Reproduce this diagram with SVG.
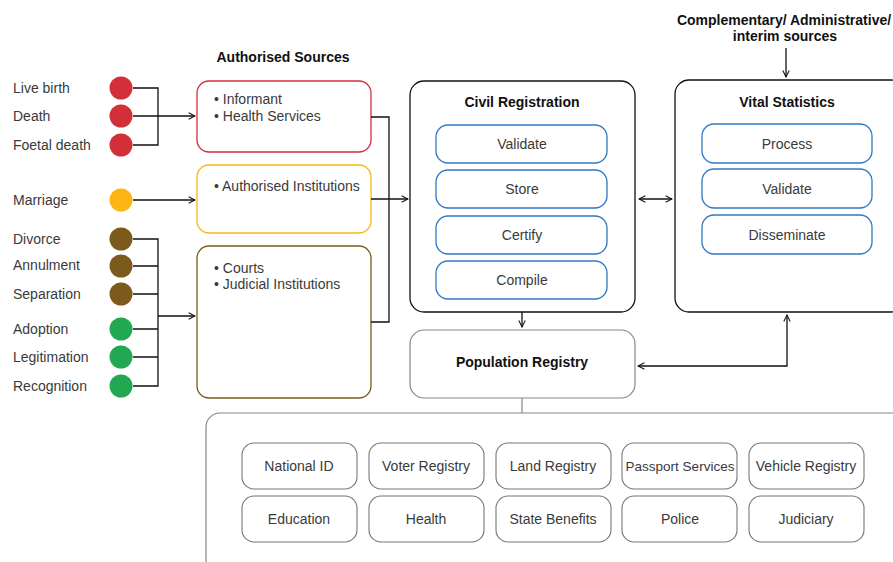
<svg xmlns="http://www.w3.org/2000/svg" width="893" height="562" viewBox="0 0 893 562">
<style>
text{font-family:"Liberation Sans",Arial,sans-serif;font-size:14px;fill:#3a3a3a}
.b{font-weight:bold;fill:#111}
.c{text-anchor:middle}
.ln{fill:none;stroke:#111;stroke-width:1.3}
.gl{fill:none;stroke:#888;stroke-width:1.2}
.blue{fill:#fff;stroke:#2f78c4;stroke-width:1.3}
.gray{fill:#fff;stroke:#777;stroke-width:1.1}
</style>
<defs>
<marker id="ah" viewBox="0 0 10 10" refX="9" refY="5" markerWidth="8" markerHeight="8" orient="auto-start-reverse" markerUnits="userSpaceOnUse">
<path d="M1,1 L9,5 L1,9" fill="none" stroke="#111" stroke-width="1.3"/>
</marker>
</defs>

<g id="events">
<text x="13" y="93">Live birth</text><circle cx="121" cy="88" r="11.5" fill="#d22f38"/>
<text x="13" y="121">Death</text><circle cx="121" cy="116" r="11.5" fill="#d22f38"/>
<text x="13" y="150">Foetal death</text><circle cx="121" cy="145" r="11.5" fill="#d22f38"/>
<text x="13" y="205">Marriage</text><circle cx="121" cy="200" r="11.5" fill="#fbb616"/>
<text x="13" y="244">Divorce</text><circle cx="121" cy="239" r="11.5" fill="#7b5a1c"/>
<text x="13" y="270">Annulment</text><circle cx="121" cy="266" r="11.5" fill="#7b5a1c"/>
<text x="13" y="299">Separation</text><circle cx="121" cy="294" r="11.5" fill="#7b5a1c"/>
<text x="13" y="334">Adoption</text><circle cx="121" cy="329" r="11.5" fill="#22a852"/>
<text x="13" y="362">Legitimation</text><circle cx="121" cy="357" r="11.5" fill="#22a852"/>
<text x="13" y="391">Recognition</text><circle cx="121" cy="386" r="11.5" fill="#22a852"/>
</g>

<g id="authorised-sources">
<text class="b c" x="283" y="62">Authorised Sources</text>
<rect x="197" y="81" width="174" height="71" rx="12" fill="#fff" stroke="#d22f38" stroke-width="1.3"/>
<text x="214" y="104">• Informant</text>
<text x="214" y="121">• Health Services</text>
<rect x="197" y="165" width="174" height="68" rx="12" fill="#fff" stroke="#fbb616" stroke-width="1.3"/>
<text x="214" y="191">• Authorised Institutions</text>
<rect x="197" y="246" width="174" height="152" rx="12" fill="#fff" stroke="#7b5a1c" stroke-width="1.3"/>
<text x="214" y="273">• Courts</text>
<text x="214" y="289">• Judicial Institutions</text>
</g>

<g id="civil-registration">
<rect x="410" y="81" width="225" height="231" rx="14" fill="#fff" stroke="#111" stroke-width="1.3"/>
<text class="b c" x="522" y="107">Civil Registration</text>
<rect class="blue" x="436" y="125" width="171" height="38" rx="12"/><text class="c" x="522" y="149">Validate</text>
<rect class="blue" x="436" y="170" width="171" height="38" rx="12"/><text class="c" x="522" y="194">Store</text>
<rect class="blue" x="436" y="216" width="171" height="38" rx="12"/><text class="c" x="522" y="240">Certify</text>
<rect class="blue" x="436" y="261" width="171" height="38" rx="12"/><text class="c" x="522" y="285">Compile</text>
</g>

<g id="vital-statistics">
<text class="b c" x="784" y="25">Complementary/ Administrative/</text>
<text class="b c" x="785" y="41">interim sources</text>
<rect x="675" y="80" width="230" height="232" rx="14" fill="#fff" stroke="#111" stroke-width="1.3"/>
<text class="b c" x="787" y="107">Vital Statistics</text>
<rect class="blue" x="702" y="124" width="170" height="39" rx="12"/><text class="c" x="787" y="149">Process</text>
<rect class="blue" x="702" y="169" width="170" height="39" rx="12"/><text class="c" x="787" y="194">Validate</text>
<rect class="blue" x="702" y="215" width="170" height="39" rx="12"/><text class="c" x="787" y="240">Disseminate</text>
</g>

<g id="population-registry">
<rect x="410" y="330" width="225" height="68" rx="14" fill="#fff" stroke="#888" stroke-width="1.2"/>
<text class="b c" x="522" y="367">Population Registry</text>
</g>

<g id="registries">
<rect x="206" y="413" width="710" height="170" rx="14" fill="#fff" stroke="#888" stroke-width="1.2"/>
<rect class="gray" x="242" y="443" width="115" height="46" rx="12"/><text class="c" x="299" y="471">National ID</text>
<rect class="gray" x="369" y="443" width="115" height="46" rx="12"/><text class="c" x="426" y="471">Voter Registry</text>
<rect class="gray" x="496" y="443" width="115" height="46" rx="12"/><text class="c" x="553" y="471">Land Registry</text>
<rect class="gray" x="622" y="443" width="115" height="46" rx="12"/><text class="c" x="680" y="471" style="font-size:13.5px">Passport Services</text>
<rect class="gray" x="749" y="443" width="115" height="46" rx="12"/><text class="c" x="806" y="471">Vehicle Registry</text>
<rect class="gray" x="242" y="496" width="115" height="46" rx="12"/><text class="c" x="299" y="524">Education</text>
<rect class="gray" x="369" y="496" width="115" height="46" rx="12"/><text class="c" x="426" y="524">Health</text>
<rect class="gray" x="496" y="496" width="115" height="46" rx="12"/><text class="c" x="553" y="524">State Benefits</text>
<rect class="gray" x="622" y="496" width="115" height="46" rx="12"/><text class="c" x="680" y="524">Police</text>
<rect class="gray" x="749" y="496" width="115" height="46" rx="12"/><text class="c" x="806" y="524">Judiciary</text>
</g>

<g id="connectors">
<path class="ln" d="M133,88 H158 V145 H133"/>
<path class="ln" d="M133,116 H195" marker-end="url(#ah)"/>
<path class="ln" d="M133,200 H195" marker-end="url(#ah)"/>
<path class="ln" d="M133,239 H158 V386 H133 M133,266 H158 M133,294 H158 M133,329 H158 M133,357 H158"/>
<path class="ln" d="M158,316 H195" marker-end="url(#ah)"/>
<path class="ln" d="M371,117 H389 V322 H371"/>
<path class="ln" d="M371,199 H408" marker-end="url(#ah)"/>
<path class="ln" d="M639,199 H672" marker-start="url(#ah)" marker-end="url(#ah)"/>
<path class="ln" d="M786,48 V77" marker-end="url(#ah)"/>
<path class="ln" d="M522,312 V327" marker-end="url(#ah)"/>
<path class="ln" d="M787,315 V366 H638" marker-start="url(#ah)" marker-end="url(#ah)"/>
<path class="gl" d="M522,398 V413"/>
</g>
</svg>
